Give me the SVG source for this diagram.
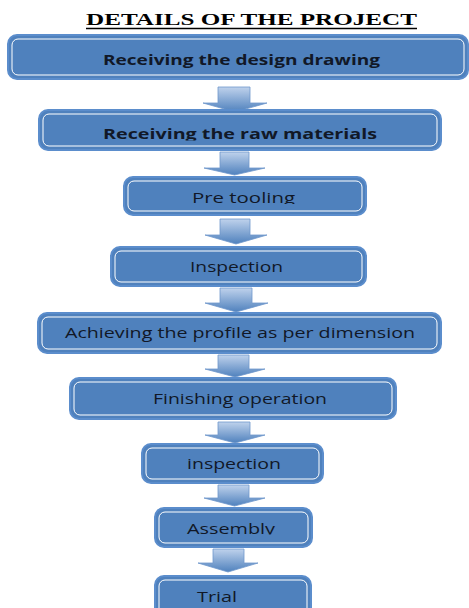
<svg xmlns="http://www.w3.org/2000/svg" width="469" height="608" viewBox="0 0 469 608">
<style>
.box{fill:#4f81bd;stroke:#5b8dcc;stroke-width:2}
.inner{fill:none;stroke:#ffffff;stroke-width:1}
.t{font-family:"Open Sans","DejaVu Sans",sans-serif;font-size:14px;fill:#111827;text-anchor:middle}
.b{font-weight:bold}
.arrow{fill:url(#ag);stroke:#6f97cc;stroke-width:0.8}
</style>
<defs>
<linearGradient id="ag" x1="0" y1="0" x2="0" y2="1">
<stop offset="0" stop-color="#bfd2ec"/>
<stop offset="1" stop-color="#4f81bd"/>
</linearGradient>
<clipPath id="c2"><rect x="0" y="100" width="469" height="40.5"/></clipPath>
<clipPath id="c3"><rect x="0" y="170" width="469" height="34"/></clipPath>
<clipPath id="c8"><rect x="0" y="500" width="469" height="34.5"/></clipPath>
</defs>
<rect width="469" height="608" fill="#ffffff"/>
<g id="title">
<text x="251.5" y="25" font-family="Liberation Serif,serif" font-weight="bold" font-size="16" text-anchor="middle" textLength="331" lengthAdjust="spacingAndGlyphs" fill="#000">DETAILS OF THE PROJECT</text>
<line x1="86" y1="28.5" x2="417" y2="28.5" stroke="#000" stroke-width="1.5"/>
</g>
<g id="connectors">
<path class="arrow" d="M218 87 H250 V103 H267 L235 112 L203 103 H218 Z"/>
<path class="arrow" d="M220 152 H249 V168 H265 L234.5 175 L204 168 H220 Z"/>
<path class="arrow" d="M220 219 H250 V235 H267 L236 244 L205 235 H220 Z"/>
<path class="arrow" d="M220 288 H252 V303 H268 L236 312 L205 303 H220 Z"/>
<path class="arrow" d="M218 355 H249 V369 H265 L235 377 L205 369 H218 Z"/>
<path class="arrow" d="M218 422 H250 V435 H265 L235 443 L205 435 H218 Z"/>
<path class="arrow" d="M218 485 H249 V498 H265 L234.5 506 L204 498 H218 Z"/>
<path class="arrow" d="M213 549 H244 V563 H258 L228 572 L198 563 H213 Z"/>
</g>
<g id="n1">
<rect class="box" x="8" y="35" width="460" height="44" rx="9"/>
<rect class="inner" x="12" y="39" width="452" height="36" rx="6"/>
<text class="t b" x="241.5" y="65" textLength="277" lengthAdjust="spacingAndGlyphs">Receiving  the design drawing</text>
</g>
<g id="n2">
<rect class="box" x="39" y="110" width="402" height="40" rx="9"/>
<rect class="inner" x="43" y="114" width="394" height="32" rx="6"/>
<text class="t b" x="240" y="139" textLength="274" lengthAdjust="spacingAndGlyphs" clip-path="url(#c2)">Receiving  the  raw  materials</text>
</g>
<g id="n3">
<rect class="box" x="124" y="177" width="242" height="38" rx="9"/>
<rect class="inner" x="128" y="181" width="234" height="30" rx="6"/>
<text class="t" x="243.5" y="203" textLength="103" lengthAdjust="spacingAndGlyphs" clip-path="url(#c3)">Pre  tooling</text>
</g>
<g id="n4">
<rect class="box" x="111" y="247" width="255" height="39" rx="9"/>
<rect class="inner" x="115" y="251" width="247" height="31" rx="6"/>
<text class="t" x="236.5" y="272" textLength="93" lengthAdjust="spacingAndGlyphs">Inspection</text>
</g>
<g id="n5">
<rect class="box" x="38" y="313" width="403" height="40" rx="9"/>
<rect class="inner" x="42" y="317" width="395" height="32" rx="6"/>
<text class="t" x="240" y="338" textLength="350" lengthAdjust="spacingAndGlyphs">Achieving the profile as per dimension</text>
</g>
<g id="n6">
<rect class="box" x="70" y="378" width="326" height="41" rx="9"/>
<rect class="inner" x="74" y="382" width="318" height="33" rx="6"/>
<text class="t" x="240" y="404" textLength="174" lengthAdjust="spacingAndGlyphs">Finishing operation</text>
</g>
<g id="n7">
<rect class="box" x="142" y="444" width="181" height="39" rx="9"/>
<rect class="inner" x="146" y="448" width="173" height="31" rx="6"/>
<text class="t" x="234" y="469" textLength="94" lengthAdjust="spacingAndGlyphs">inspection</text>
</g>
<g id="n8">
<rect class="box" x="155" y="508" width="157" height="39" rx="9"/>
<rect class="inner" x="159" y="512" width="149" height="31" rx="6"/>
<text class="t" x="231" y="534" textLength="88" lengthAdjust="spacingAndGlyphs" clip-path="url(#c8)">Assembly</text>
</g>
<g id="n9">
<rect class="box" x="155" y="576" width="156" height="44" rx="9"/>
<rect class="inner" x="159" y="580" width="148" height="36" rx="6"/>
<text class="t" x="217" y="602" textLength="40" lengthAdjust="spacingAndGlyphs">Trial</text>
</g>
</svg>
